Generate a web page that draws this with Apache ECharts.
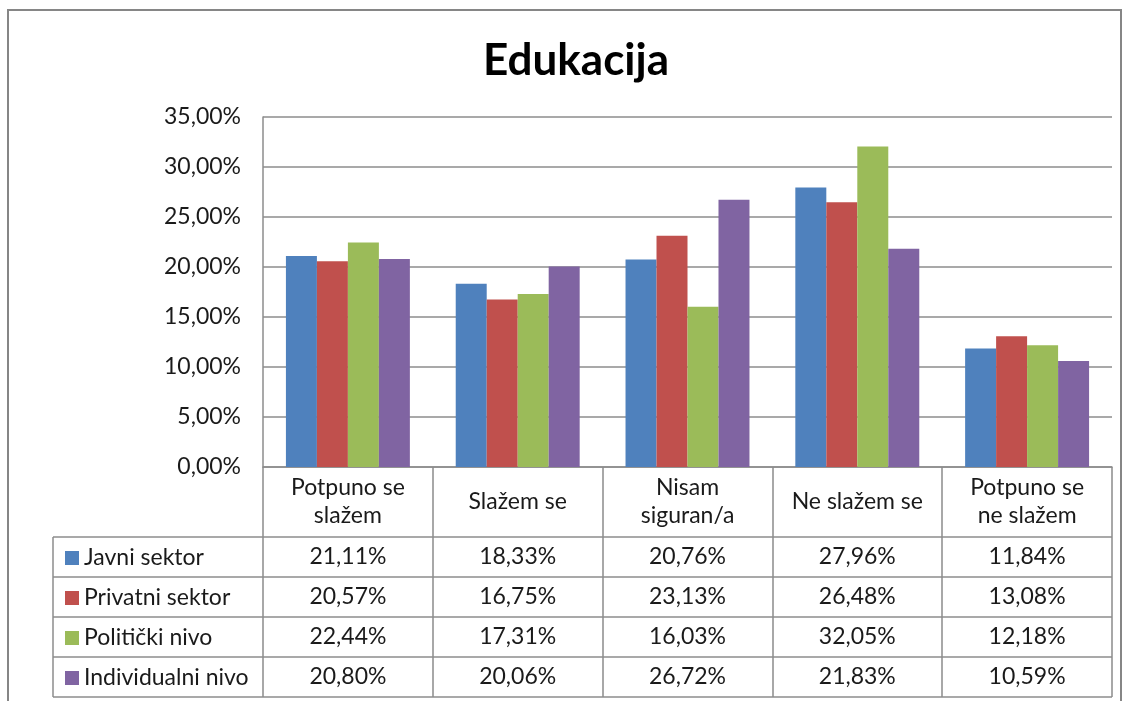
<!DOCTYPE html>
<html>
<head>
<meta charset="utf-8">
<title>Edukacija</title>
<script src="https://cdn.jsdelivr.net/npm/echarts@6/dist/echarts.min.js"></script>
<style>
  html, body { margin: 0; padding: 0; background: #fff; }
  #chart { width: 1126px; height: 701px; }
</style>
</head>
<body>
<div id="chart"></div>
<script>
// podaci
const categories = ['Potpuno se\nslažem', 'Slažem se', 'Nisam\nsiguran/a', 'Ne slažem se', 'Potpuno se\nne slažem']
const seriesNames = ['Javni sektor', 'Privatni sektor', 'Politički nivo', 'Individualni nivo']
const javniSektor = [21.11, 18.33, 20.76, 27.96, 11.84]
const privatniSektor = [20.57, 16.75, 23.13, 26.48, 13.08]
const politickiNivo = [22.44, 17.31, 16.03, 32.05, 12.18]
const individualniNivo = [20.80, 20.06, 26.72, 21.83, 10.59]
const yMin = 0, yMax = 35, yStep = 5

const rows = [javniSektor, privatniSektor, politickiNivo, individualniNivo]
const colors = ['#4F81BD', '#C0504D', '#9BBB59', '#8064A2']
const lineColor = '#8c8c8c'
const font = 'Lato'
const fontSize = 23
const fmt = v => v.toFixed(2).replace('.', ',') + '%'

// raspored
const plotLeft = 263, plotRight = 1112, plotTop = 117, plotBottom = 467
const headerH = 70, rowH = 40, tableLeft = 53
const tableBottom = plotBottom + headerH + rowH * rows.length

const chart = echarts.init(document.getElementById('chart'), null, { renderer: 'canvas' })

const rowAxes = rows.map((r, k) => ({
  type: 'category',
  data: categories,
  position: 'bottom',
  offset: headerH + rowH * k + rowH / 2,
  axisLine: { show: false },
  axisTick: { show: false },
  axisLabel: {
    interval: 0,
    margin: 0,
    verticalAlign: 'middle',
    fontFamily: font,
    fontSize: fontSize,
    color: '#1a1a1a',
    formatter: (v, i) => fmt(r[i])
  }
}))

const tableLines = []
for (let k = 0; k <= rows.length; k++) {
  const y = plotBottom + headerH + rowH * k
  tableLines.push({
    type: 'line',
    shape: { x1: tableLeft, y1: y, x2: plotRight, y2: y },
    style: { stroke: lineColor, lineWidth: 1.5 }
  })
}
tableLines.push({
  type: 'line',
  shape: { x1: tableLeft, y1: plotBottom + headerH, x2: tableLeft, y2: tableBottom },
  style: { stroke: lineColor, lineWidth: 1.5 }
})

chart.setOption({
  animation: false,
  title: {
    text: 'Edukacija',
    left: 478,
    top: 34,
    textStyle: { fontFamily: font, fontSize: 44, fontWeight: 'bold', color: '#000' }
  },
  legend: {
    orient: 'vertical',
    left: 60,
    top: plotBottom + headerH + 3,
    itemWidth: 14,
    itemHeight: 14,
    itemGap: 14,
    icon: 'rect',
    textStyle: { fontFamily: font, fontSize: fontSize, color: '#1a1a1a', lineHeight: 26 },
    data: seriesNames
  },
  grid: {
    left: plotLeft,
    right: 1126 - plotRight,
    top: plotTop,
    bottom: 701 - plotBottom,
    containLabel: false
  },
  xAxis: [
    {
      type: 'category',
      data: categories,
      position: 'bottom',
      axisLine: { show: true, lineStyle: { color: lineColor, width: 1.5 } },
      axisTick: { show: true, length: tableBottom - plotBottom, lineStyle: { color: lineColor, width: 1.5 } },
      axisLabel: {
        interval: 0,
        margin: headerH / 2,
        verticalAlign: 'middle',
        lineHeight: 28,
        fontFamily: font,
        fontSize: fontSize,
        color: '#1a1a1a'
      }
    },
    ...rowAxes
  ],
  yAxis: {
    type: 'value',
    min: yMin,
    max: yMax,
    interval: yStep,
    axisLine: { show: true, lineStyle: { color: lineColor, width: 1.5 } },
    axisTick: { show: false },
    splitLine: { lineStyle: { color: lineColor, width: 1.5 } },
    axisLabel: {
      margin: 22,
      fontFamily: font,
      fontSize: fontSize,
      color: '#1a1a1a',
      formatter: v => fmt(v)
    }
  },
  series: rows.map((r, k) => ({
    name: seriesNames[k],
    type: 'bar',
    xAxisIndex: 0,
    data: r,
    barGap: '0%',
    barCategoryGap: '27%',
    itemStyle: { color: colors[k] }
  })),
  color: colors,
  graphic: [
    {
      type: 'rect',
      shape: { x: 8, y: 10, width: 1113, height: 720 },
      style: { fill: 'none', stroke: '#868686', lineWidth: 2 },
      silent: true
    },
    ...tableLines
  ]
})
</script>
</body>
</html>
